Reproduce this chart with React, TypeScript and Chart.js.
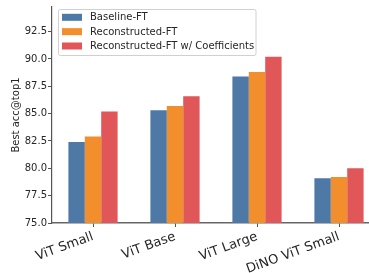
import React, { useEffect, useRef } from "react";
import { Chart, registerables } from "chart.js";

Chart.register(...registerables);

const categories = ["ViT Small", "ViT Base", "ViT Large", "DiNO ViT Small"];
const seriesNames = ["Baseline-FT", "Reconstructed-FT", "Reconstructed-FT w/ Coefficients"];
const baselineFT = [82.4, 85.3, 88.4, 79.1];
const reconstructedFT = [82.9, 85.7, 88.8, 79.2];
const reconstructedCoef = [85.2, 86.6, 90.2, 80.0];
const seriesColors = ["#4e79a7", "#f28e2b", "#e15759"];
const yMin = 75;
const yMax = 94.75;
const yStep = 2.5;

const FONT = "'DejaVu Sans', sans-serif";

const legendPlugin = {
  id: "boxLegend",
  afterDraw(chart: any) {
    const ctx = chart.ctx;
    const x0 = 58.5, y0 = 9.5, w = 197.5, h = 46;
    ctx.save();
    ctx.fillStyle = "rgba(255,255,255,0.85)";
    ctx.strokeStyle = "#d0d0d0";
    ctx.lineWidth = 1;
    ctx.beginPath();
    if (ctx.roundRect) ctx.roundRect(x0, y0, w, h, 2);
    else ctx.rect(x0, y0, w, h);
    ctx.fill();
    ctx.stroke();
    ctx.font = `10px ${FONT}`;
    ctx.textBaseline = "middle";
    ctx.textAlign = "left";
    chart.data.datasets.forEach((ds: any, i: number) => {
      const cy = 17.3 + i * 14.35;
      ctx.fillStyle = ds.backgroundColor;
      ctx.fillRect(62, cy - 3.5, 20, 7);
      ctx.fillStyle = "#262626";
      ctx.fillText(ds.label, 90, cy + 0.5);
    });
    ctx.restore();
  },
};

export default function App() {
  const ref = useRef<HTMLCanvasElement | null>(null);
  useEffect(() => {
    document.body.style.margin = "0";
    document.body.style.overflow = "hidden";
    const values = [baselineFT, reconstructedFT, reconstructedCoef];
    const chart = new Chart(ref.current as HTMLCanvasElement, {
      type: "bar",
      data: {
        labels: categories,
        datasets: seriesNames.map((name, i) => ({
          label: name,
          data: values[i],
          backgroundColor: seriesColors[i],
          borderWidth: 0,
          categoryPercentage: 0.6,
          barPercentage: 1.0,
        })),
      },
      plugins: [legendPlugin],
      options: {
        animation: false,
        responsive: false,
        maintainAspectRatio: false,
        layout: { padding: { top: 4, left: 0, right: 0, bottom: 0 } },
        plugins: { legend: { display: false }, tooltip: { enabled: false } },
        scales: {
          x: {
            offset: true,
            grid: {
              display: true,
              drawOnChartArea: false,
              drawTicks: true,
              tickLength: 4,
              tickColor: "#555",
              offset: false,
            },
            border: { display: true, color: "#666", width: 1.5 },
            ticks: {
              minRotation: 20,
              maxRotation: 20,
              padding: 2,
              color: "#262626",
              font: { family: FONT, size: 13 },
            },
            afterFit(scale: any) {
              scale.height = 50;
            },
          },
          y: {
            min: yMin,
            max: yMax,
            grid: {
              display: true,
              drawOnChartArea: false,
              drawTicks: true,
              tickLength: 4,
              tickColor: "#555",
            },
            border: { display: true, color: "#555", width: 1.2 },
            ticks: {
              stepSize: yStep,
              padding: 1,
              color: "#262626",
              font: { family: FONT, size: 10 },
              callback: (v: any) => Number(v).toFixed(1),
            },
            afterBuildTicks(scale: any) {
              scale.ticks = scale.ticks.filter(
                (t: any) => Math.abs(t.value / yStep - Math.round(t.value / yStep)) < 1e-6
              );
            },
            title: {
              display: true,
              text: "Best acc@top1",
              color: "#262626",
              font: { family: FONT, size: 10 },
              padding: { top: 10, bottom: 0 },
            },
            afterFit(scale: any) {
              scale.width = 52;
            },
          },
        },
      },
    });
    return () => chart.destroy();
  }, []);
  return (
    <div style={{ position: "fixed", left: 0, top: 0, width: 380, height: 273 }}>
      <canvas ref={ref} width={380} height={273} style={{ width: 380, height: 273 }} />
    </div>
  );
}
